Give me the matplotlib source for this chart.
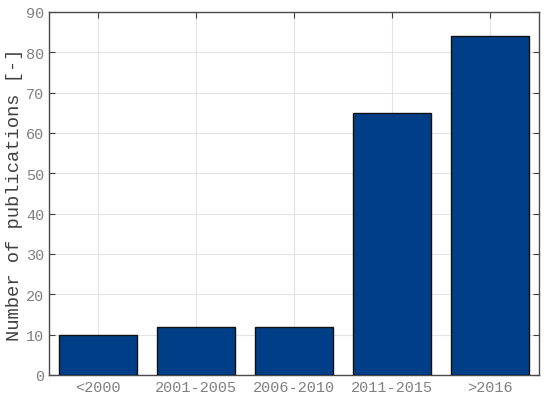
import matplotlib
matplotlib.use("Agg")
import matplotlib.pyplot as plt

# dados
periodos = ['<2000', '2001-2005', '2006-2010', '2011-2015', '>2016']
publicacoes = [10, 12, 12, 65, 84]

plt.rcParams['font.family'] = ['Liberation Mono', 'DejaVu Sans Mono']

fig = plt.figure(figsize=(5.5, 4.02), dpi=100)
ax = fig.add_axes([0.089, 0.0647, 0.891, 0.903])

x = list(range(1, len(periodos) + 1))
ax.bar(x, publicacoes, width=0.8, color='#003f87', edgecolor='#101010',
       linewidth=1.0, zorder=3)

ax.set_xlim(0.5, 5.5)
ax.set_ylim(0, 90)
ax.set_xticks(x)
ax.set_xticklabels(periodos)
ax.set_yticks(range(0, 91, 10))
ax.set_ylabel('Number of publications [-]', fontsize=13.5, color='#404040',
              labelpad=2)

ax.grid(True, color='#e3e3e3', linewidth=0.8, zorder=0)
ax.tick_params(direction='in', top=True, right=True, length=4,
               labelsize=11, labelcolor='#808080', color='#404040')
for s in ax.spines.values():
    s.set_color('#4a4a4a')
    s.set_linewidth(1.0)

plt.savefig('out.png', dpi=100)
